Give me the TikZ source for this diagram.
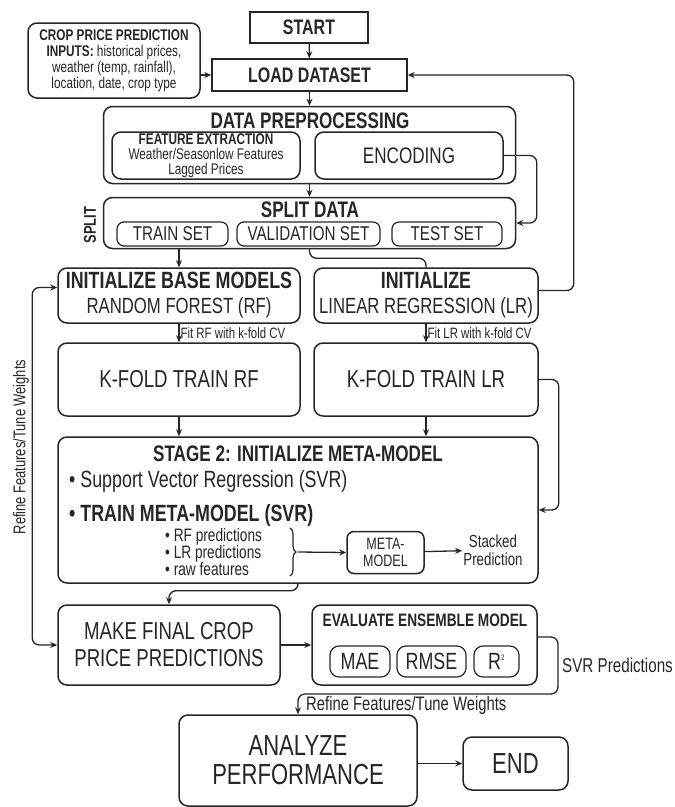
\documentclass[tikz,border=0pt]{standalone}
\usepackage{fontspec}
\setmainfont[FakeStretch=0.76]{Liberation Sans}
\usetikzlibrary{arrows.meta,calc,positioning,decorations.pathreplacing}
\definecolor{ink}{HTML}{262626}
\newcommand{\fsz}[2]{\fontsize{#1}{#2}\selectfont}
\tikzset{
  sqbox/.style={draw=ink,rectangle,line width=1.5pt,align=center,inner sep=0pt},
  rbox/.style={draw=ink,rounded corners=9pt,line width=1.5pt,align=center,inner sep=0pt},
  pill/.style={draw=ink,rounded corners=7pt,line width=1.2pt,align=center,inner sep=0pt},
  conn/.style={draw=ink,line width=1.3pt,rounded corners=7pt},
  lbl/.style={inner sep=1pt,text=ink,align=center}
}

\begin{document}
\begin{tikzpicture}[x=1pt,y=-1pt,>={Stealth[length=7pt,width=6pt]},text=ink]
  \useasboundingbox (0,0) rectangle (675,807);

  % start / load / inputs
  \node[sqbox,minimum width=118pt,minimum height=31pt,font=\fsz{21}{24}\bfseries] (start) at (309,27.5) {START};
  \node[sqbox,minimum width=195pt,minimum height=32pt,font=\fsz{21}{24}\bfseries] (load) at (309.5,75) {LOAD DATASET};
  \node[rbox,minimum width=172pt,minimum height=75pt,font=\fsz{15.5}{15.8}] (inp) at (114,60.5)
    {\textbf{CROP PRICE PREDICTION}\\\textbf{INPUTS:} historical prices,\\weather (temp, rainfall),\\location, date, crop type};

  % preprocessing and split
  \node[rbox,minimum width=412pt,minimum height=77pt] (prep) at (309.5,145) {};
  \node[lbl,font=\fsz{22.5}{24}\bfseries] (prept) at (310,121) {DATA PREPROCESSING};
  \node[rbox,minimum width=188pt,minimum height=47pt,font=\fsz{15.5}{15}] (feat) at (206,155.5)
    {\textbf{FEATURE EXTRACTION}\\Weather/Seasonlow Features\\Lagged Prices};
  \node[rbox,minimum width=188pt,minimum height=47pt,font=\fsz{22.5}{24}] (enc) at (409,155.5) {ENCODING};
  \node[rbox,minimum width=412pt,minimum height=51pt] (split) at (309.5,223) {};
  \node[lbl,font=\fsz{22.5}{24}\bfseries] (splitt) at (310,210) {SPLIT DATA};
  \node[pill,minimum width=111pt,minimum height=24pt,font=\fsz{20}{22}] (train) at (172.5,234) {TRAIN SET};
  \node[pill,minimum width=143pt,minimum height=24pt,font=\fsz{20}{22}] (valid) at (308.5,234) {VALIDATION SET};
  \node[pill,minimum width=110pt,minimum height=24pt,font=\fsz{20}{22}] (test) at (447,234) {TEST SET};
  \node[lbl,rotate=90,font=\fsz{17}{19}\bfseries] (splitl) at (90,225) {SPLIT};

  % base models
  \node[rbox,minimum width=242pt,minimum height=55pt,font=\fsz{22}{25}] (initrf) at (179,295.5)
    {\fontsize{23.5}{25}\selectfont\bfseries INITIALIZE BASE MODELS\\RANDOM FOREST (RF)};
  \node[rbox,minimum width=224pt,minimum height=55pt,font=\fsz{22}{25}] (initlr) at (426,295.5)
    {\fontsize{23.5}{25}\selectfont\bfseries INITIALIZE\\LINEAR REGRESSION (LR)};
  \node[rbox,minimum width=242pt,minimum height=73pt,font=\fsz{24.5}{26}] (kfrf) at (179,379.5) {K-FOLD TRAIN RF};
  \node[rbox,minimum width=224pt,minimum height=73pt,font=\fsz{24.5}{26}] (kflr) at (426,379.5) {K-FOLD TRAIN LR};

  % stage 2
  \node[rbox,minimum width=480pt,minimum height=146pt] (stage) at (298,510) {};
  \node[lbl,font=\fsz{22.5}{24}\bfseries] (staget) at (298,454) {STAGE 2: INITIALIZE META-MODEL};
  \node[lbl,anchor=west,font=\fsz{23.5}{26}] (svr) at (68,481) {\textbullet\ Support Vector Regression (SVR)};
  \node[lbl,anchor=west,font=\fsz{23.5}{26}\bfseries] (trainsvr) at (68,515) {\textbullet\ TRAIN META-MODEL (SVR)};
  \node[lbl,anchor=west,align=left,font=\fsz{18}{16.8}] (feeds) at (164,552)
    {\textbullet\ RF predictions\\\textbullet\ LR predictions\\\textbullet\ raw features};
  \draw[ink,line width=1.2pt,decorate,decoration={brace,amplitude=6pt}] (290,528) -- (290,576);
  \coordinate (btip) at (298,552);
  \node[rbox,rounded corners=7pt,minimum width=77pt,minimum height=42pt,font=\fsz{16.5}{17}] (meta) at (385.5,552.5) {META-\\MODEL};
  \node[lbl,font=\fsz{17.5}{18}] (stacked) at (493,550) {Stacked\\Prediction};

  % final
  \node[rbox,minimum width=222pt,minimum height=80pt,font=\fsz{24.5}{27}] (make) at (169,645) {MAKE FINAL CROP\\PRICE PREDICTIONS};
  \node[rbox,minimum width=225pt,minimum height=80pt] (eval) at (424.5,645) {};
  \node[lbl,font=\fsz{18}{20}\bfseries] (evalt) at (425,620) {EVALUATE ENSEMBLE MODEL};
  \node[pill,rounded corners=9pt,minimum width=60pt,minimum height=31pt,font=\fsz{23.5}{25}] (mae) at (360,661.5) {MAE};
  \node[pill,rounded corners=9pt,minimum width=69pt,minimum height=31pt,font=\fsz{23.5}{25}] (rmse) at (431.5,661.5) {RMSE};
  \node[pill,rounded corners=9pt,minimum width=45pt,minimum height=31pt,font=\fsz{23.5}{25}] (rsq) at (496.5,661.5) {R\textsuperscript{\footnotesize 2}};
  \node[rbox,minimum width=238pt,minimum height=91pt,font=\fsz{29}{29}] (analyze) at (298,760.5) {ANALYZE\\PERFORMANCE};
  \node[rbox,minimum width=105pt,minimum height=53pt,font=\fsz{29}{30}] (end) at (515.5,763.5) {END};
  \coordinate (evloop) at (558,694);

  % connectors
  \draw[conn,->] (start) -- (load);
  \draw[conn,->] (inp.east |- load) -- (load.west);
  \draw[conn,->] (load) -- (prep);
  \draw[conn,->] (prep) -- (split);
  \draw[conn,->] (enc.east) -- ++(33,0) |- (split.east);
  \draw[conn,->] (initrf.north |- split.south) -- (initrf.north);
  \draw[conn] (split.south) -- ++(0,9) -| (initlr.north);
  \draw[conn,->] ([yshift=5pt]initlr.east) -- ++(35,0) |- (load.east);
  \draw[conn,->] (initrf) -- node[lbl,right,font=\fsz{15}{17}]{Fit RF with k-fold CV} (kfrf);
  \draw[conn,->] (initlr) -- node[lbl,right,font=\fsz{15}{17}]{Fit LR with k-fold CV} (kflr);
  \draw[conn,->] (kfrf) -- (kfrf |- stage.north);
  \draw[conn,->] (kflr) -- (kflr |- stage.north);
  \draw[conn,->] (kflr.east) -- ++(20,0) |- (stage.east);
  \draw[conn,->] (btip) -- (meta.west);
  \draw[conn,->] (meta) -- (stacked);
  \draw[conn,->] (stage.south -| btip) -- ++(0,7) -| (make.north);
  \draw[conn,<->] ([yshift=8pt]initrf.west) -- ++(-25,0) |- (make.west);
  \node[lbl,rotate=90,font=\fsz{17}{19}] (refv) at (21,447) {Refine Features/Tune Weights};
  \draw[conn,->] (make) -- (eval);
  \draw[conn,->] ([yshift=8pt]eval.east) -| (evloop) -| (analyze.north);
  \node[lbl,anchor=west,font=\fsz{20}{22}] (svrp) at (561,665) {SVR Predictions};
  \node[lbl,anchor=west,font=\fsz{19.5}{21}] (refl) at (305,705) {Refine Features/Tune Weights};
  \draw[conn,->] (analyze.east |- end) -- (end.west);
\end{tikzpicture}
\end{document}
